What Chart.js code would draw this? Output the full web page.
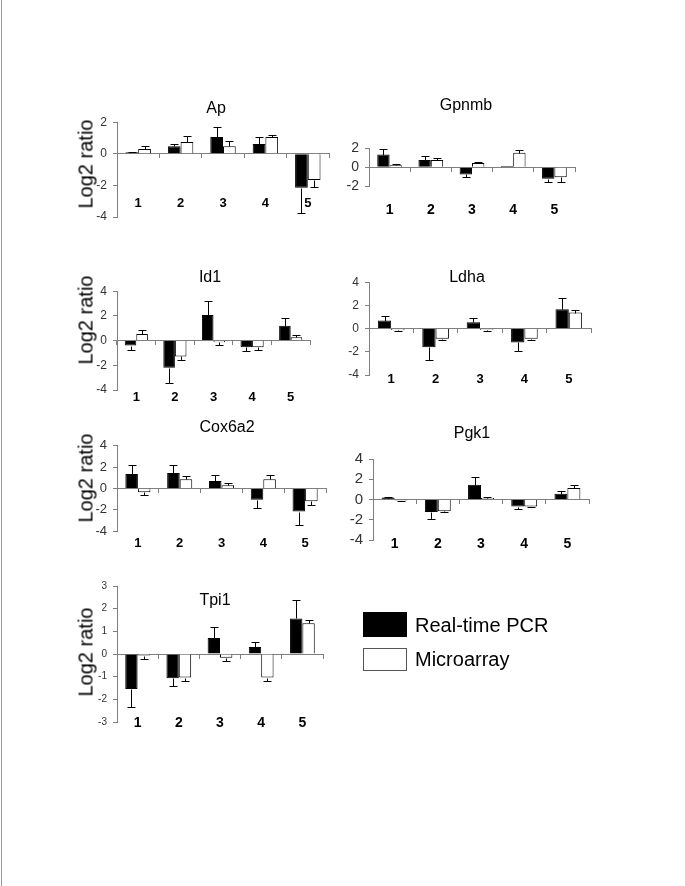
<!DOCTYPE html>
<html>
<head>
<meta charset="utf-8">
<script src="https://cdn.jsdelivr.net/npm/chart.js@4"></script>
<style>
body { margin: 0; background: #fff; font-family: "Liberation Sans", Arial, sans-serif; }
#hoja { position: relative; width: 685px; height: 886px; overflow: hidden; background: #fff; }
#borde { position: absolute; left: 1px; top: 0; width: 1px; height: 886px; background: #9a9a9a; }
canvas { position: absolute; }
.titulo { position: absolute; font-size: 16px; color: #000; transform: translate(-50%, -50%); white-space: nowrap; }
.eje { position: absolute; font-size: 20px; color: #000; transform: translate(-50%, -50%) rotate(-90deg); white-space: nowrap; }
.caja { position: absolute; width: 44px; height: 23px; box-sizing: border-box; }
.leyenda { position: absolute; font-size: 20px; color: #000; transform: translateY(-50%); white-space: nowrap; }
</style>
</head>
<body>
<div id="hoja">
  <div id="borde"></div>
</div>
<script>
// DATOS (log2 ratio)
const categorias = ['1', '2', '3', '4', '5'];
const series = ['Real-time PCR', 'Microarray'];

const apPcr = [0.1, 0.47, 1.07, 0.62, -2.15];
const apPcrErr = [0.03, 0.13, 0.61, 0.45, 1.58];
const apMicro = [0.3, 0.75, 0.47, 1.07, -1.66];
const apMicroErr = [0.17, 0.38, 0.31, 0.12, 0.44];

const gpnmbPcr = [1.34, 0.77, -0.77, 0.12, -1.22];
const gpnmbPcrErr = [0.61, 0.38, 0.29, 0, 0.32];
const gpnmbMicro = [0.2, 0.77, 0.45, 1.54, -1.06];
const gpnmbMicroErr = [0.18, 0.23, 0.09, 0.28, 0.48];

const id1Pcr = [-0.4, -2.19, 2.08, -0.53, 1.2];
const id1PcrErr = [0.35, 1.28, 1.12, 0.35, 0.61];
const id1Micro = [0.53, -1.28, -0.13, -0.53, 0.27];
const id1MicroErr = [0.32, 0.27, 0.19, 0.27, 0.18];

const ldhaPcr = [0.69, -1.6, 0.55, -1.19, 1.66];
const ldhaPcrErr = [0.41, 1.1, 0.33, 0.74, 0.96];
const ldhaMicro = [-0.14, -0.88, -0.1, -0.88, 1.38];
const ldhaMicroErr = [0.06, 0.09, 0.07, 0.09, 0.22];

const coxPcr = [1.36, 1.45, 0.7, -1.06, -2.18];
const coxPcrErr = [0.84, 0.75, 0.54, 0.82, 1.3];
const coxMicro = [-0.36, 0.85, 0.3, 0.85, -1.21];
const coxMicroErr = [0.24, 0.3, 0.25, 0.39, 0.31];

const pgkPcr = [0.19, -1.23, 1.45, -0.7, 0.57];
const pgkPcrErr = [0.03, 0.67, 0.79, 0.25, 0.23];
const pgkMicro = [-0.1, -1.17, 0.16, -0.7, 1.13];
const pgkMicroErr = [0.03, 0.06, 0.04, 0.06, 0.32];

const tpiPcr = [-1.54, -1.07, 0.71, 0.31, 1.57];
const tpiPcrErr = [0.82, 0.36, 0.46, 0.22, 0.83];
const tpiMicro = [-0.07, -1.04, -0.17, -1.04, 1.36];
const tpiMicroErr = [0.17, 0.17, 0.14, 0.17, 0.14];

const fuente = '"Liberation Sans", Arial, sans-serif';
const gris = '#7f7f7f';

// paneles: posicion del area del grafico y textos
const paneles = [
    { titulo: 'Ap', pcr: apPcr, pcrErr: apPcrErr, micro: apMicro, microErr: apMicroErr,
      izq: 117, der: 329, arriba: 119, abajo: 217, min: -4, max: 2, paso: 2,
      tick: 12, etiq: 13, etiqY: -2.65, tx: 216, ty: 108, ejeY: 164 },
    { titulo: 'Gpnmb', pcr: gpnmbPcr, pcrErr: gpnmbPcrErr, micro: gpnmbMicro, microErr: gpnmbMicroErr,
      izq: 369, der: 575, arriba: 143.5, abajo: 185.5, min: -2, max: 2, paso: 2,
      tick: 14, etiq: 14, etiqY: -3.63, tx: 466, ty: 105, ejeY: null },
    { titulo: 'Id1', pcr: id1Pcr, pcrErr: id1PcrErr, micro: id1Micro, microErr: id1MicroErr,
      izq: 117, der: 310, arriba: 287.5, abajo: 389, min: -4, max: 4, paso: 2,
      tick: 12, etiq: 13, etiqY: -3.94, tx: 210, ty: 277, ejeY: 320 },
    { titulo: 'Ldha', pcr: ldhaPcr, pcrErr: ldhaPcrErr, micro: ldhaMicro, microErr: ldhaMicroErr,
      izq: 369, der: 591, arriba: 279, abajo: 374.5, min: -4, max: 4, paso: 2,
      tick: 12, etiq: 13, etiqY: -3.72, tx: 467, ty: 277, ejeY: null },
    { titulo: 'Cox6a2', pcr: coxPcr, pcrErr: coxPcrErr, micro: coxMicro, microErr: coxMicroErr,
      izq: 117, der: 326, arriba: 441.7, abajo: 530.5, min: -4, max: 4, paso: 2,
      tick: 13, etiq: 13, etiqY: -4.45, tx: 227, ty: 427, ejeY: 478 },
    { titulo: 'Pgk1', pcr: pgkPcr, pcrErr: pgkPcrErr, micro: pgkMicro, microErr: pgkMicroErr,
      izq: 373, der: 589, arriba: 453.5, abajo: 539, min: -4, max: 4, paso: 2,
      tick: 15, etiq: 14, etiqY: -3.59, tx: 472, ty: 433, ejeY: null },
    { titulo: 'Tpi1', pcr: tpiPcr, pcrErr: tpiPcrErr, micro: tpiMicro, microErr: tpiMicroErr,
      izq: 117, der: 323, arriba: 584.3, abajo: 722.5, min: -3, max: 3, paso: 1,
      tick: 10, etiq: 14, etiqY: -2.66, tx: 215, ty: 600, ejeY: 652 }
];

// barras de error: solo hacia fuera del cero
const barrasError = {
    id: 'barrasError',
    afterDatasetsDraw(chart) {
        const ctx = chart.ctx;
        const y = chart.scales.y;
        chart.data.datasets.forEach((ds, i) => {
            const meta = chart.getDatasetMeta(i);
            meta.data.forEach((bar, j) => {
                const v = ds.data[j];
                const e = ds.errores[j];
                if (!e) return;
                const fin = v >= 0 ? v + e : v - e;
                const py = Math.round(y.getPixelForValue(fin)) + 0.5;
                const px = Math.round(bar.x) + 0.5;
                ctx.save();
                ctx.strokeStyle = '#000';
                ctx.lineWidth = 1;
                ctx.beginPath();
                ctx.moveTo(px, Math.round(bar.y) + 0.5);
                ctx.lineTo(px, py);
                ctx.moveTo(px - 4, py);
                ctx.lineTo(px + 4, py);
                ctx.stroke();
                ctx.restore();
            });
        });
    }
};

function texto(clase, txt, x, y) {
    const d = document.createElement('div');
    d.className = clase;
    d.textContent = txt;
    d.style.left = x + 'px';
    d.style.top = y + 'px';
    document.getElementById('hoja').appendChild(d);
    return d;
}

function crearPanel(p) {
    const anchoEje = 30, padTop = 10, padBottom = 40, padRight = 6;
    const top = Math.round(p.arriba) - padTop;
    const alto = Math.round(p.abajo - p.arriba) + padTop + padBottom;
    const left = p.izq - anchoEje;
    const ancho = p.der - p.izq + anchoEje + padRight;

    const canvas = document.createElement('canvas');
    canvas.width = ancho;
    canvas.height = alto;
    canvas.style.left = left + 'px';
    canvas.style.top = top + 'px';
    canvas.style.width = ancho + 'px';
    canvas.style.height = alto + 'px';
    document.getElementById('hoja').appendChild(canvas);

    new Chart(canvas, {
        type: 'bar',
        data: {
            labels: categorias,
            datasets: [
                { label: series[0], data: p.pcr, errores: p.pcrErr,
                  backgroundColor: '#000', borderColor: '#000', borderWidth: 1 },
                { label: series[1], data: p.micro, errores: p.microErr,
                  backgroundColor: '#fff', borderColor: '#000', borderWidth: 1 }
            ]
        },
        options: {
            responsive: false,
            animation: false,
            devicePixelRatio: 1,
            layout: { padding: { left: 0, right: padRight, top: padTop, bottom: padBottom } },
            plugins: { legend: { display: false }, tooltip: { enabled: false } },
            datasets: { bar: { categoryPercentage: 0.6, barPercentage: 1 } },
            scales: {
                x: {
                    position: { y: 0 },
                    offset: true,
                    ticks: { display: false },
                    grid: { display: true, drawOnChartArea: false, drawTicks: true, tickLength: 4, color: gris, offset: true },
                    border: { display: true, color: gris }
                },
                x2: {
                    type: 'category',
                    position: { y: p.etiqY },
                    offset: true,
                    ticks: { color: '#000', padding: 0, maxRotation: 0, autoSkip: false,
                             font: { family: fuente, size: p.etiq, weight: 'bold' } },
                    grid: { display: false, drawTicks: false },
                    border: { display: false }
                },
                y: {
                    min: p.min,
                    max: p.max,
                    ticks: { stepSize: p.paso, color: '#333', padding: 6,
                             font: { family: fuente, size: p.tick } },
                    grid: { drawOnChartArea: false, drawTicks: true, tickLength: 4, color: gris },
                    border: { display: true, color: gris },
                    afterFit(s) { s.width = anchoEje; }
                }
            }
        },
        plugins: [barrasError]
    });

    texto('titulo', p.titulo, p.tx, p.ty);
    if (p.ejeY !== null) texto('eje', 'Log2 ratio', 86, p.ejeY);
}

paneles.forEach(crearPanel);

// leyenda
const hoja = document.getElementById('hoja');
const negra = document.createElement('div');
negra.className = 'caja';
negra.style.cssText = 'left:363px;top:612px;height:25px;background:#000;';
hoja.appendChild(negra);
const blanca = document.createElement('div');
blanca.className = 'caja';
blanca.style.cssText = 'left:363px;top:648px;height:23px;background:#fff;border:1px solid #555;';
hoja.appendChild(blanca);
texto('leyenda', series[0], 415, 625);
texto('leyenda', series[1], 415, 659);
</script>
</body>
</html>
